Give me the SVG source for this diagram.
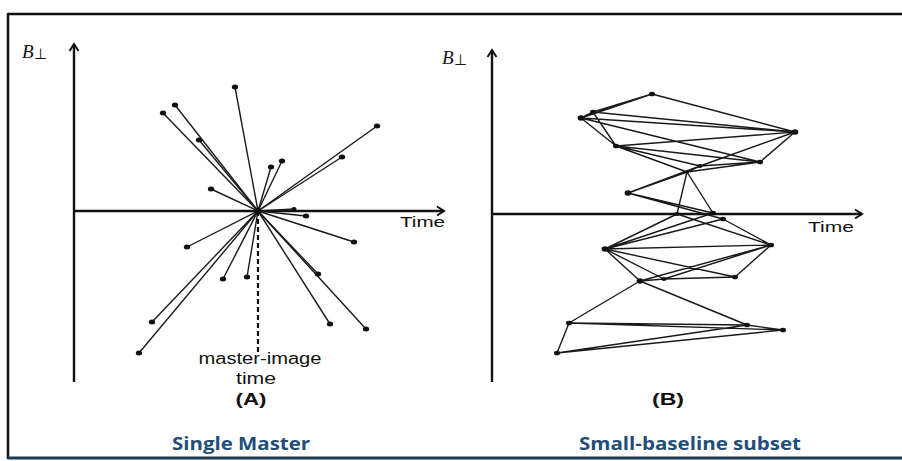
<svg xmlns="http://www.w3.org/2000/svg" width="902" height="461" viewBox="0 0 902 461">
<defs>
<marker id="arr" markerWidth="12" markerHeight="12" refX="9" refY="6" orient="auto" markerUnits="userSpaceOnUse">
<path d="M2,1.5 L9,6 L2,10.5" fill="none" stroke="#111" stroke-width="2"/>
</marker>
<style>
.axis{stroke:#111;stroke-width:2.4;fill:none}
.e{stroke:#1a1a1a;stroke-width:1.4;fill:none}
.d{fill:#111}
.lbl{font-family:"Liberation Sans",Arial,sans-serif;fill:#111}
.ttl{font-family:"Open Sans","Liberation Sans",sans-serif;font-weight:bold;fill:#1f4e79;font-size:17px}
.bp{font-family:"Liberation Serif",serif;fill:#111;font-size:19px}
</style>
</defs>
<rect x="0" y="0" width="902" height="461" fill="#fff"/>
<g id="frame">
<line x1="8" y1="14" x2="902" y2="14" stroke="#111" stroke-width="2.5"/>
<line x1="8" y1="13" x2="8" y2="459" stroke="#111" stroke-width="2.5"/>
<line x1="8" y1="458" x2="902" y2="458" stroke="#1d3a55" stroke-width="3"/>
</g>
<g id="panelA-axes">
<line class="axis" x1="74" y1="382" x2="74" y2="44" marker-end="url(#arr)"/>
<line class="axis" x1="74" y1="211" x2="444" y2="211" marker-end="url(#arr)"/>
<text class="bp" x="22" y="58"><tspan font-style="italic">B</tspan><tspan font-size="15" dy="1">⊥</tspan></text>
<text class="lbl" x="400" y="227" font-size="15" textLength="45" lengthAdjust="spacingAndGlyphs">Time</text>
</g>
<g id="connectors-A">
<line x1="258" y1="211" x2="258" y2="353" stroke="#111" stroke-width="2.2" stroke-dasharray="5,3"/>
<line class="e" x1="258" y1="211" x2="235" y2="87"/>
<line class="e" x1="258" y1="211" x2="175" y2="105"/>
<line class="e" x1="258" y1="211" x2="163" y2="113"/>
<line class="e" x1="258" y1="211" x2="199" y2="140"/>
<line class="e" x1="258" y1="211" x2="377" y2="126"/>
<line class="e" x1="258" y1="211" x2="342" y2="157"/>
<line class="e" x1="258" y1="211" x2="271" y2="167"/>
<line class="e" x1="258" y1="211" x2="282" y2="161"/>
<line class="e" x1="258" y1="211" x2="211" y2="189"/>
<line class="e" x1="258" y1="211" x2="294" y2="209"/>
<line class="e" x1="258" y1="211" x2="306" y2="216"/>
<line class="e" x1="258" y1="211" x2="354" y2="242"/>
<line class="e" x1="258" y1="211" x2="187" y2="247"/>
<line class="e" x1="258" y1="211" x2="223" y2="279"/>
<line class="e" x1="258" y1="211" x2="247" y2="277"/>
<line class="e" x1="258" y1="211" x2="318" y2="274"/>
<line class="e" x1="258" y1="211" x2="152" y2="322"/>
<line class="e" x1="258" y1="211" x2="139" y2="353"/>
<line class="e" x1="258" y1="211" x2="330" y2="324"/>
<line class="e" x1="258" y1="211" x2="366" y2="329"/>
</g>
<g id="nodes-A" class="d">
<circle cx="258" cy="211" r="3.2"/>
<ellipse cx="235" cy="87" rx="3.2" ry="2.5"/>
<ellipse cx="175" cy="105" rx="3.2" ry="2.5"/>
<ellipse cx="163" cy="113" rx="3.2" ry="2.5"/>
<ellipse cx="199" cy="140" rx="3.2" ry="2.5"/>
<ellipse cx="377" cy="126" rx="3.2" ry="2.5"/>
<ellipse cx="342" cy="157" rx="3.2" ry="2.5"/>
<ellipse cx="271" cy="167" rx="3.2" ry="2.5"/>
<ellipse cx="282" cy="161" rx="3.2" ry="2.5"/>
<ellipse cx="211" cy="189" rx="3.2" ry="2.5"/>
<ellipse cx="294" cy="209" rx="2.6" ry="2.1"/>
<ellipse cx="306" cy="216" rx="3.2" ry="2.5"/>
<ellipse cx="354" cy="242" rx="3.2" ry="2.5"/>
<ellipse cx="187" cy="247" rx="3.2" ry="2.5"/>
<ellipse cx="223" cy="279" rx="3.2" ry="2.5"/>
<ellipse cx="247" cy="277" rx="3.2" ry="2.5"/>
<ellipse cx="318" cy="274" rx="3.2" ry="2.5"/>
<ellipse cx="152" cy="322" rx="3.2" ry="2.5"/>
<ellipse cx="139" cy="353" rx="3.2" ry="2.5"/>
<ellipse cx="330" cy="324" rx="3.2" ry="2.5"/>
<ellipse cx="366" cy="329" rx="3.2" ry="2.5"/>
</g>
<g id="labels-A">
<text class="lbl" x="260" y="364" font-size="16" text-anchor="middle" textLength="123" lengthAdjust="spacingAndGlyphs" font-family="Open Sans">master-image</text>
<text class="lbl" x="256" y="384" font-size="16" text-anchor="middle" textLength="40" lengthAdjust="spacingAndGlyphs" font-family="Open Sans">time</text>
<text class="lbl" x="251" y="405" font-size="17" font-weight="bold" text-anchor="middle" textLength="31" lengthAdjust="spacingAndGlyphs" font-family="Open Sans">(A)</text>
<text class="ttl" x="241" y="450" text-anchor="middle" textLength="138" lengthAdjust="spacingAndGlyphs">Single Master</text>
</g>
<g id="panelB-axes">
<line class="axis" x1="492" y1="382" x2="492" y2="50" marker-end="url(#arr)"/>
<line class="axis" x1="492" y1="214" x2="862" y2="214" marker-end="url(#arr)"/>
<text class="bp" x="442" y="64"><tspan font-style="italic">B</tspan><tspan font-size="15" dy="1">⊥</tspan></text>
<text class="lbl" x="808" y="232" font-size="15" textLength="46" lengthAdjust="spacingAndGlyphs">Time</text>
</g>
<g id="connectors-B">
<path class="e" d="M652,94 L593,112 M652,94 L581,118 M652,94 L795,132 M593,112 L581,118 M593,112 L795,132 M581,118 L795,132 M593,112 L616,146 M581,118 L616,146 M581,118 L760,162 M616,146 L795,132 M616,146 L760,162 M616,146 L700,166 M616,146 L687,172 M795,132 L760,162 M795,132 L700,166 M760,162 L687,172 M760,162 L700,166 M700,166 L687,172 M628,193 L700,166 M628,193 L687,172 M687,172 L677,214 M687,172 L713,213 M628,193 L713,213 M628,193 L723,219"/>
<path class="e" d="M605,249 L677,214 M605,249 L713,213 M605,249 L723,219 M605,249 L771,245 M605,249 L735,277 M605,249 L640,281 M605,249 L664,279 M677,214 L771,245 M723,219 L771,245 M771,245 L640,281 M771,245 L664,279 M771,245 L735,277 M640,281 L664,279 M664,279 L735,277"/>
<path class="e" d="M640,281 L569,323 M640,281 L747,325 M569,323 L747,325 M569,323 L783,330 M569,323 L557,353 M557,353 L783,330 M557,353 L747,325 M747,325 L783,330"/>
</g>
<g id="nodes-B" class="d">
<ellipse cx="652" cy="94" rx="3" ry="2.3"/>
<ellipse cx="593" cy="112" rx="3" ry="2.3"/>
<ellipse cx="581" cy="118" rx="3.4" ry="2.7"/>
<ellipse cx="795" cy="132" rx="3.4" ry="2.7"/>
<ellipse cx="616" cy="146" rx="3" ry="2.3"/>
<ellipse cx="760" cy="162" rx="3" ry="2.3"/>
<ellipse cx="700" cy="166" rx="2.6" ry="2.1"/>
<ellipse cx="687" cy="172" rx="2" ry="1.6"/>
<ellipse cx="628" cy="193" rx="3.4" ry="2.7"/>
<ellipse cx="677" cy="214" rx="2.6" ry="2.1"/>
<ellipse cx="713" cy="213" rx="3" ry="2.3"/>
<ellipse cx="723" cy="219" rx="3" ry="2.3"/>
<ellipse cx="605" cy="249" rx="3.4" ry="2.7"/>
<ellipse cx="771" cy="245" rx="3" ry="2.3"/>
<ellipse cx="640" cy="281" rx="3.4" ry="2.7"/>
<ellipse cx="664" cy="279" rx="2.6" ry="2.1"/>
<ellipse cx="735" cy="277" rx="3" ry="2.3"/>
<ellipse cx="569" cy="323" rx="3" ry="2.3"/>
<ellipse cx="747" cy="325" rx="3" ry="2.3"/>
<ellipse cx="783" cy="330" rx="3" ry="2.3"/>
<ellipse cx="557" cy="353" rx="3" ry="2.3"/>
</g>
<g id="labels-B">
<text class="lbl" x="668" y="405" font-size="17" font-weight="bold" text-anchor="middle" textLength="32" lengthAdjust="spacingAndGlyphs" font-family="Open Sans">(B)</text>
<text class="ttl" x="690" y="450" text-anchor="middle" textLength="222" lengthAdjust="spacingAndGlyphs">Small-baseline subset</text>
</g>
</svg>
